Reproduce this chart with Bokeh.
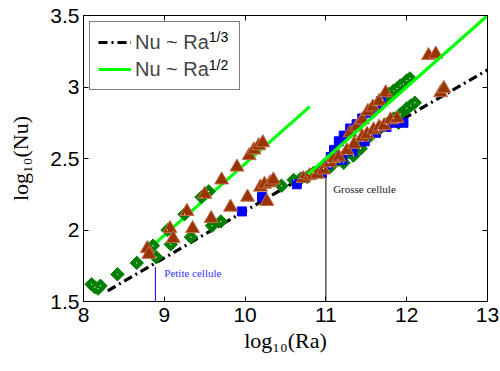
from bokeh.plotting import figure
from bokeh.models import Range1d, LinearAxis, FixedTicker, Legend, LegendItem, Label
from bokeh.embed import file_html
from bokeh.resources import INLINE

# ---- data (log10 Ra, log10 Nu) ----
green_x = [8.10, 8.14, 8.18, 8.21, 8.42, 8.66, 8.86, 8.90, 9.04, 9.08, 9.25, 9.33, 9.46, 9.55,
           9.59, 9.70, 10.45, 10.60, 10.69, 10.77, 10.85, 10.97, 11.03,
           11.05, 11.15, 11.22, 11.25, 11.34, 11.43, 11.45, 11.55, 11.65, 11.75, 11.84, 11.90,
           11.92, 12.00, 12.05, 12.10,
           11.62, 11.70, 11.78, 11.84, 11.88, 11.92, 11.96, 12.00, 12.04]
green_y = [1.62, 1.60, 1.59, 1.61, 1.69, 1.77, 1.89, 1.81, 2.00, 1.90, 2.11, 1.95, 2.23, 2.27,
           2.03, 2.06, 2.31, 2.35, 2.36, 2.37, 2.40, 2.43, 2.47,
           2.44, 2.49, 2.47, 2.53, 2.52, 2.57, 2.62, 2.66, 2.70, 2.74, 2.78, 2.75,
           2.81, 2.85, 2.87, 2.89,
           2.87, 2.91, 2.95, 2.975, 2.99, 3.01, 3.02, 3.045, 3.06]

brown_x = [8.79, 9.07, 9.28, 9.50, 9.71, 9.90, 10.05, 10.11, 10.17, 10.22,
           8.81, 9.11, 9.35, 9.58, 9.82, 10.03, 10.19, 10.24, 10.27, 10.31, 10.35,
           10.72, 10.80, 10.89, 10.97, 11.05, 11.10,
           11.30, 11.38, 11.45, 11.52, 11.58, 11.66, 11.74,
           11.16, 11.26, 11.35, 11.45, 11.51, 11.59, 11.66, 11.72, 11.80, 11.88,
           12.27, 12.36, 12.42, 12.46]
brown_y = [1.87, 2.01, 2.13, 2.25, 2.35, 2.44, 2.52, 2.56, 2.59, 2.61,
           1.83, 1.94, 2.01, 2.08, 2.16, 2.23, 2.30, 2.32, 2.20, 2.33, 2.35,
           2.36, 2.38, 2.39, 2.42, 2.47, 2.50,
           2.68, 2.72, 2.77, 2.83, 2.86, 2.90, 2.96,
           2.51, 2.555, 2.60, 2.65, 2.67, 2.70, 2.72, 2.73, 2.77, 2.78,
           3.22, 3.23, 2.96, 2.99]

blue_x = [9.96, 10.21, 10.64, 10.95, 11.02, 11.06, 11.10, 11.16, 11.22, 11.30, 11.38,
          11.45, 11.55, 11.62, 11.68, 11.20, 11.33, 11.48, 11.62, 11.75, 11.85, 11.96]
blue_y = [2.13, 2.23, 2.32, 2.40, 2.46, 2.51, 2.56, 2.62, 2.66, 2.71, 2.74,
          2.78, 2.82, 2.86, 2.90, 2.49, 2.55, 2.62, 2.68, 2.72, 2.75, 2.75]

fit13_x = [8.30, 13.0]
fit13_y = [1.575, 3.12]
fit12a_x = [8.75, 10.80]
fit12a_y = [1.838, 2.863]
fit12b_x = [10.78, 13.0]
fit12b_y = [2.39, 3.50]

small_cell_x = [8.89, 8.89]
small_cell_y = [1.5, 1.74]
big_cell_x = [11.0, 11.0]
big_cell_y = [1.5, 2.38]

x_ticks = [8, 9, 10, 11, 12, 13]
y_ticks = [1.5, 2, 2.5, 3, 3.5]
y_tick_labels = ["1.5", "2", "2.5", "3", "3.5"]
legend_labels = ["Nu ~ Ra", "Nu ~ Ra"]
legend_sups = ["1/3", "1/2"]

p = figure(width=500, height=371, x_range=Range1d(8, 13), y_range=Range1d(1.5, 3.5),
           output_backend="svg", toolbar_location=None,
           min_border_left=83, min_border_right=13, min_border_top=15, min_border_bottom=70)
p.grid.visible = False
p.outline_line_color = "black"
p.background_fill_color = "white"
p.border_fill_color = "white"

TICK_FONT = "Liberation Sans"
for ax in (p.xaxis[0], p.yaxis[0]):
    ax.major_tick_in = 5
    ax.major_tick_out = 0
    ax.minor_tick_line_color = None
    ax.axis_line_color = "black"
    ax.major_label_text_font = TICK_FONT
    ax.major_label_text_font_size = "21px"
    ax.major_label_text_color = "black"
    ax.axis_label_text_font = "Liberation Serif"
    ax.axis_label_text_font_size = "22px"
    ax.axis_label_text_font_style = "normal"
    ax.axis_label_text_color = "black"
p.xaxis.ticker = FixedTicker(ticks=x_ticks)
p.yaxis.ticker = FixedTicker(ticks=y_ticks)
p.yaxis.major_label_overrides = {float(t): l for t, l in zip(y_ticks, y_tick_labels)}
p.xaxis.major_label_standoff = 6
p.yaxis.major_label_standoff = 4
p.xaxis.axis_label = "log₁₀(Ra)"
p.yaxis.axis_label = "log₁₀(Nu)"
p.xaxis.axis_label_standoff = 3
p.yaxis.axis_label_standoff = 14

for loc, tk in (("above", x_ticks), ("right", y_ticks)):
    ax = LinearAxis(ticker=FixedTicker(ticks=tk), major_tick_in=5, major_tick_out=0,
                    minor_tick_line_color=None, major_label_text_font_size="1px",
                    major_label_text_color=None, major_label_standoff=0,
                    axis_line_color="black")
    p.add_layout(ax, loc)

# lines under markers
r13 = p.line(fit13_x, fit13_y, line_color="black", line_width=3.2, line_dash="9 4 2 4")
r12 = p.line(fit12a_x, fit12a_y, line_color="#00ff00", line_width=3.2)

# markers
p.scatter(green_x, green_y, marker="square", angle=0.785398, size=9.5,
          fill_color="#007f00", line_color="#007f00")
p.scatter(blue_x, blue_y, marker="square", size=9, fill_color="#0000ff", line_color="#0000ff")
p.scatter(brown_x, brown_y, marker="triangle", size=14, fill_color="#993300",
          line_color="#c07050", line_width=1)
p.scatter(green_x, green_y, marker="circle", size=1.3, fill_color="white", line_color=None)

p.line(fit12b_x, fit12b_y, line_color="#00ff00", line_width=3.2)

p.line(small_cell_x, small_cell_y, line_color="#0000ff", line_width=1)
p.line(big_cell_x, big_cell_y, line_color="black", line_width=1)

p.add_layout(Label(x=9.0, y=1.70, text="Petite cellule", text_color="#3333ff",
                   text_font="Liberation Serif", text_font_size="11px", text_baseline="middle"))
p.add_layout(Label(x=11.09, y=2.29, text="Grosse cellule", text_color="#222222",
                   text_font="Liberation Serif", text_font_size="11px", text_baseline="middle"))

legend = Legend(items=[LegendItem(label=legend_labels[0], renderers=[r13]),
                       LegendItem(label=legend_labels[1], renderers=[r12])],
                location="top_left", margin=6, padding=8, spacing=3,
                glyph_width=33, glyph_height=24, label_height=24, label_width=96,
                label_standoff=4, label_text_font=TICK_FONT, label_text_font_size="20px",
                border_line_color="black", border_line_width=1.2,
                background_fill_alpha=0)
p.add_layout(legend)

p.text(x=[9.55, 9.55], y=[3.35, 3.155], text=legend_sups, text_font_size="14px",
       text_color="black", text_baseline="alphabetic",
       text_font={"value": TICK_FONT})

open("out.html", "w").write(file_html(p, INLINE))
